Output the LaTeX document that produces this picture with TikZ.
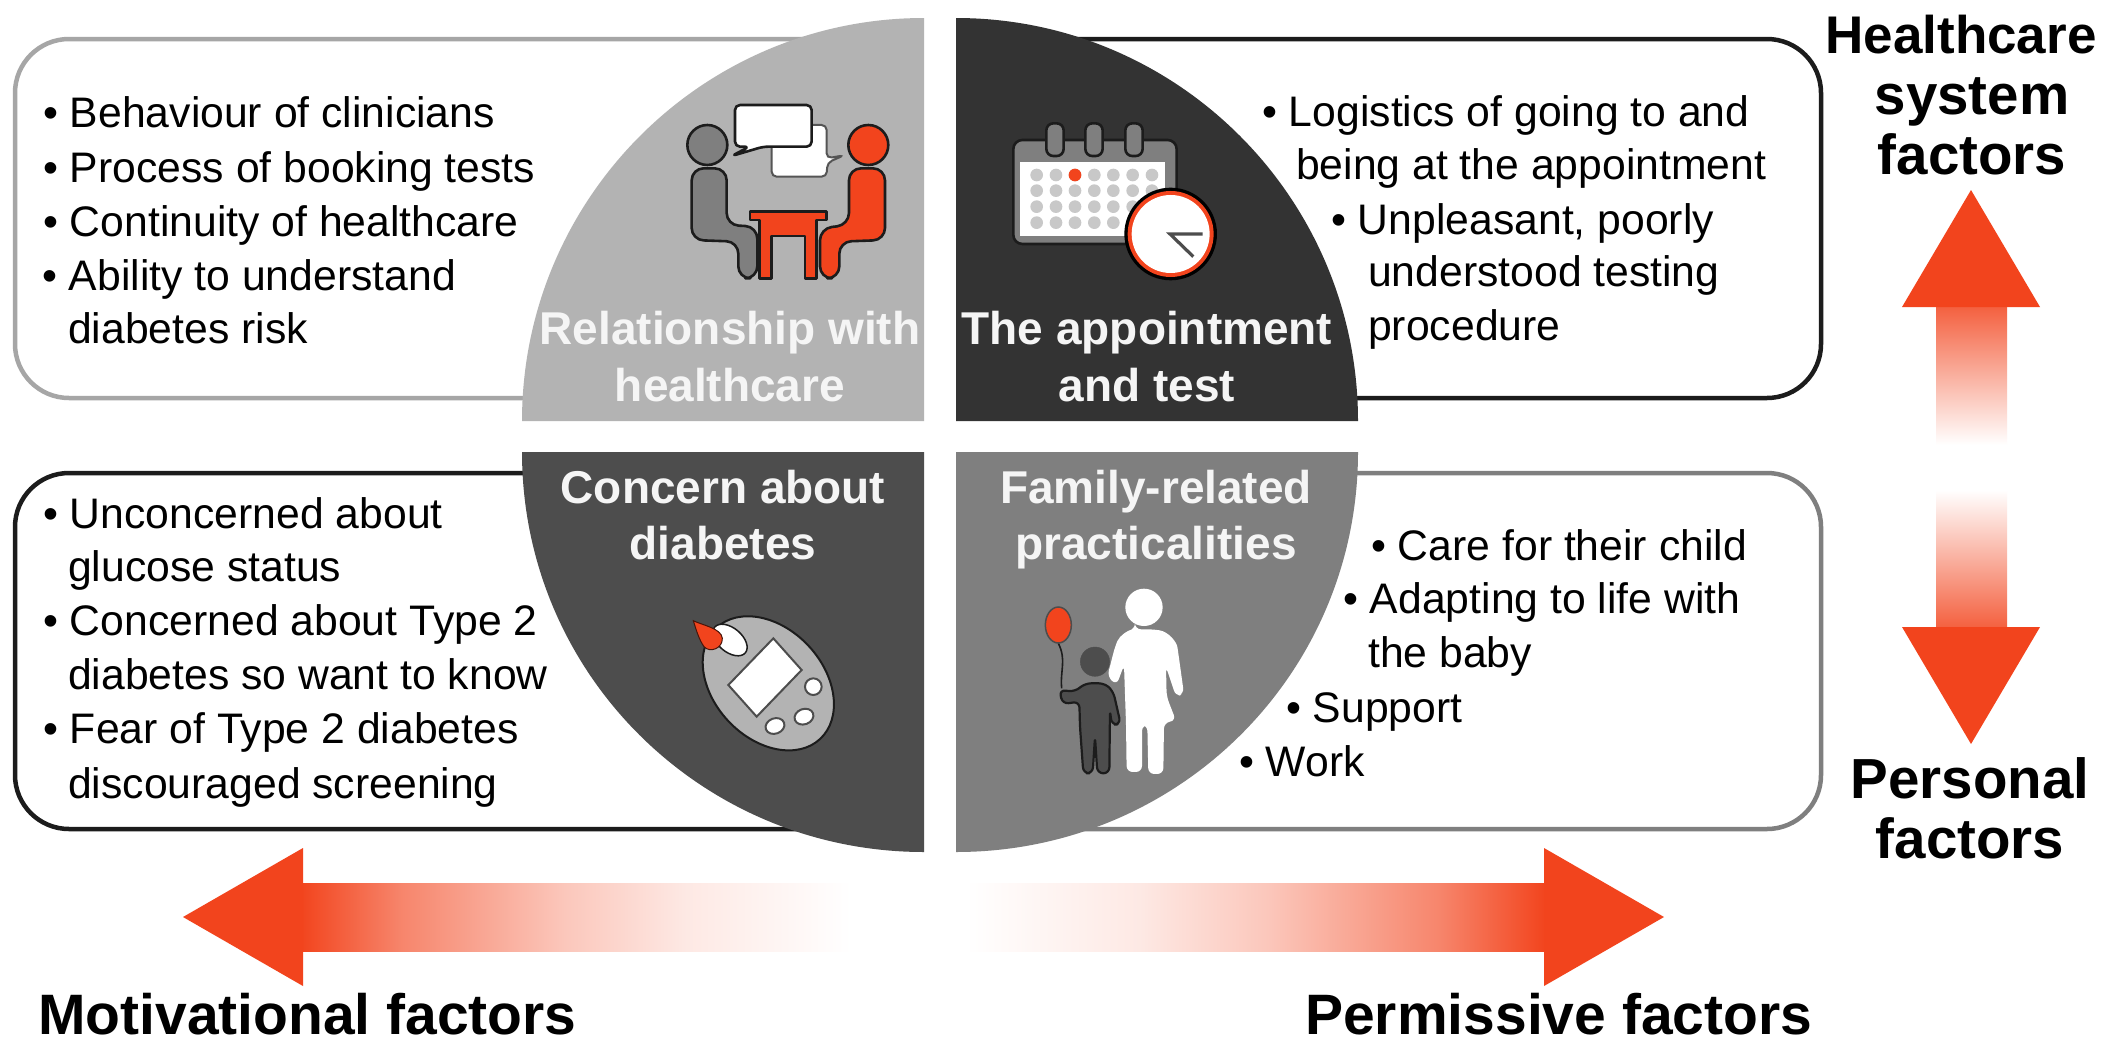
\documentclass[tikz,border=0pt]{standalone}
\usepackage{fontspec}
\setmainfont{Liberation Sans}
\definecolor{hot}{HTML}{F2441D}
\definecolor{qa}{HTML}{B3B3B3}
\definecolor{qb}{HTML}{333333}
\definecolor{qc}{HTML}{4D4D4D}
\definecolor{qd}{HTML}{7F7F7F}
\definecolor{ink}{HTML}{1C1C1C}
\definecolor{dotg}{HTML}{C8C8C8}
\pgfdeclarehorizontalshading{fadeleft}{100bp}{color(0bp)=(hot);color(25bp)=(hot);color(34.25bp)=(hot!65);color(49bp)=(hot!30);color(60bp)=(hot!12);color(75bp)=(white);color(100bp)=(white)}
\pgfdeclarehorizontalshading{faderight}{100bp}{color(0bp)=(white);color(25bp)=(white);color(40bp)=(hot!12);color(51bp)=(hot!30);color(65.75bp)=(hot!65);color(75bp)=(hot);color(100bp)=(hot)}
\tikzset{
  panel/.style={fill=white,line width=4.5pt,rounded corners=54pt},
  txt/.style={anchor=base west,inner sep=0pt,yshift=-1.5pt,text=black,font=\fontsize{42.7}{54}\selectfont},
  head/.style={anchor=base,inner sep=0pt,yshift=-1.5pt,text=white!96!black,font=\fontsize{46}{54}\selectfont\bfseries},
  side/.style={anchor=base,inner sep=0pt,text=black,font=\fontsize{56.5}{60}\selectfont\bfseries},
  axis/.style={anchor=base west,inner sep=0pt,text=black,font=\fontsize{57}{60}\selectfont\bfseries},
  icon/.style={draw=ink,line width=2.6pt,line join=round},
  zoom/.style={x=.3333pt,y=-.3333pt}
}
\begin{document}
\begin{tikzpicture}[x=1pt,y=-1pt]
\useasboundingbox (0,0) rectangle (2128,1050);
\fill[white] (0,0) rectangle (2128,1050);
% panels
\draw[panel,draw=black!35] (15,39) rectangle (880,398);
\draw[panel,draw=ink] (1000,39) rectangle (1821,398);
\draw[panel,draw=ink] (15,473) rectangle (880,829);
\draw[panel,draw=qd] (1000,473) rectangle (1821,829);
% quadrants
\fill[qa] (924,421) -- (522,421) .. controls (522,199) and (702,18) .. (924,18) -- cycle;
\fill[qb] (956,421) -- (1358,421) .. controls (1358,199) and (1178,18) .. (956,18) -- cycle;
\fill[qc] (924,452) -- (522,452) .. controls (522,674) and (702,852) .. (924,852) -- cycle;
\fill[qd] (956,452) -- (1358,452) .. controls (1358,674) and (1178,852) .. (956,852) -- cycle;
% arrows
\shade[top color=hot!85,bottom color=white] (1936,306) rectangle (2007,445);
\fill[hot] (1971,190) -- (2040,307) -- (1902,307) -- cycle;
\shade[top color=white,bottom color=hot!85] (1936,490) rectangle (2007,628);
\fill[hot] (1971,744) -- (2040,627) -- (1902,627) -- cycle;
\shade[shading=fadeleft] (300,883) rectangle (851,951);
\fill[hot] (183,917) -- (303,848) -- (303,986) -- cycle;
\shade[shading=faderight] (966,883) rectangle (1546,951);
\fill[hot] (1664,917) -- (1544,848) -- (1544,986) -- cycle;
% people icon
\begin{scope}[shift={(620,80)},zoom]
  \draw[fill=white,draw=ink!75,line width=2pt,rounded corners=5pt] (455,135) -- (620,135) -- (620,235) -- (672,226) -- (622,248) -- (620,290) -- (455,290) -- cycle;
  \draw[fill=white,icon,rounded corners=5pt] (345,75) -- (575,75) -- (575,200) -- (430,200) -- (335,228) -- (388,200) -- (345,200) -- cycle;
  \draw[icon,fill=qd] (262,195) circle[radius=60];
  \draw[icon,fill=qd,rounded corners=12pt] (215,480) -- (215,265) -- (320,265) -- (320,435) -- (412,440) -- (412,595) -- (355,595) -- (355,485) -- cycle;
  \draw[icon,fill=hot] (745,195) circle[radius=60];
  \draw[icon,fill=hot,rounded corners=12pt] (795,480) -- (795,265) -- (687,265) -- (687,435) -- (600,445) -- (600,595) -- (658,595) -- (658,485) -- cycle;
  \draw[icon,fill=hot] (390,395) -- (620,395) -- (620,420) -- (590,420) -- (590,595) -- (555,595) -- (555,468) -- (455,468) -- (455,595) -- (418,595) -- (418,420) -- (390,420) -- cycle;
\end{scope}
% calendar icon
\begin{scope}[shift={(980,90)},zoom]
  \draw[icon,fill=qd,rounded corners=9pt] (100,150) rectangle (590,462);
  \fill[white] (120,215) rectangle (555,438);
  \foreach \cx in {225,342,462}
    \draw[icon,fill=qd,rounded corners=7pt] (\cx-26,100) rectangle (\cx+26,198);
  \foreach \cx in {170,228,285,343,400,458,516}
    \foreach \cy in {255,302,350,398}
      \fill[dotg] (\cx,\cy) circle[radius=19];
  \fill[hot] (285,255) circle[radius=19];
  \fill[black] (572,432) circle[radius=139];
  \fill[hot] (572,432) circle[radius=129];
  \fill[white] (572,432) circle[radius=117];
  \draw[draw=qc,line width=3.2pt] (668,432) -- (570,432) -- (640,500);
\end{scope}
% meter icon
\begin{scope}[shift={(660,590)},zoom]
  \draw[draw=ink,line width=2pt,fill=qa,rotate around={-47:(325,280)}] (325,280) ellipse[x radius=228,y radius=165];
  \draw[draw=ink,line width=1.5pt,fill=white,rotate around={-40:(210,150)}] (210,150) ellipse[x radius=60,y radius=36];
  \fill[hot,draw=black!70!hot,line width=1pt] (100,92) .. controls (125,105) and (185,115) .. (187,145) .. controls (188,175) and (150,190) .. (132,170) .. controls (118,150) and (110,125) .. (100,92) -- cycle;
  \draw[draw=qc,line width=2pt,fill=white] (340,145) -- (425,240) -- (290,380) -- (205,285) -- cycle;
  \draw[draw=qc,line width=2pt,fill=white] (460,290) circle[radius=25];
  \draw[draw=qc,line width=2pt,fill=white,rotate around={20:(432,380)}] (432,380) ellipse[x radius=29,y radius=23];
  \draw[draw=qc,line width=2pt,fill=white,rotate around={20:(345,408)}] (345,408) ellipse[x radius=29,y radius=23];
\end{scope}
% family icon
\begin{scope}[shift={(1020,570)},zoom]
  \fill[white] (372,112) circle[radius=56];
  \fill[white,rounded corners=6pt] (345,178) -- (400,178) .. controls (445,185) and (470,215) .. (475,250) -- (492,372) -- (468,380) -- (438,290) -- (440,380) -- (468,452) -- (432,458) -- (430,612) -- (385,612) -- (382,465) -- (366,465) -- (366,606) -- (320,606) -- (318,460) -- (312,285) -- (290,345) -- (262,320) -- (285,230) .. controls (300,195) and (325,182) .. (345,178) -- cycle;
  \draw[draw=ink,line width=1.6pt] (115,220) .. controls (140,270) and (120,300) .. (125,355);
  \draw[draw=qc,line width=1.5pt,fill=hot] (115,165) ellipse[x radius=39,y radius=54];
  \fill[qc,draw=qc] (225,275) circle[radius=44];
  \draw[icon,fill=qc,line width=2.2pt,rounded corners=6pt] (118,360) -- (165,365) -- (195,340) -- (255,340) -- (280,365) -- (302,462) -- (275,465) -- (270,420) -- (268,610) -- (232,610) -- (225,500) -- (218,610) -- (190,610) -- (180,470) -- (178,395) -- (128,402) -- cycle;
\end{scope}
% bullet text
\node[txt] (a1) at (43,126) {• Behaviour of clinicians};
\node[txt] (a2) at (43,180.5) {• Process of booking tests};
\node[txt] (a3) at (43,235) {• Continuity of healthcare};
\node[txt] (a4) at (42,289) {• Ability to understand};
\node[txt] (a5) at (68,342) {diabetes risk};
\node[txt] (b1) at (1262,125) {• Logistics of going to and};
\node[txt] (b2) at (1296,178) {being at the appointment};
\node[txt] (b3) at (1331,233) {• Unpleasant, poorly};
\node[txt] (b4) at (1368,285) {understood testing};
\node[txt] (b5) at (1368,339) {procedure};
\node[txt] (c1) at (43,526.5) {• Unconcerned about};
\node[txt] (c2) at (68,579.5) {glucose status};
\node[txt] (c3) at (43,634) {• Concerned about Type 2};
\node[txt] (c4) at (68,688) {diabetes so want to know};
\node[txt] (c5) at (43,742) {• Fear of Type 2 diabetes};
\node[txt] (c6) at (68,796.5) {discouraged screening};
\node[txt] (d1) at (1371,559) {• Care for their child};
\node[txt] (d2) at (1343,612) {• Adapting to life with};
\node[txt] (d3) at (1368,666) {the baby};
\node[txt] (d4) at (1286,720.5) {• Support};
\node[txt] (d5) at (1239,775) {• Work};
% quadrant headings
\node[head] (h1) at (730,343) {Relationship with};
\node[head] (h2) at (730,400) {healthcare};
\node[head] (h3) at (1147,343) {The appointment};
\node[head] (h4) at (1147,400) {and test};
\node[head] (h5) at (723,502) {Concern about};
\node[head] (h6) at (723,558) {diabetes};
\node[head] (h7) at (1156,502) {Family-related};
\node[head] (h8) at (1156,558) {practicalities};
% axis labels
\node[side,font=\fontsize{53}{60}\selectfont\bfseries] (s1) at (1961,53) {Healthcare};
\node[side] (s2) at (1972,114) {system};
\node[side] (s3) at (1972,174) {factors};
\node[side] (s4) at (1970,798) {Personal};
\node[side] (s5) at (1970,858) {factors};
\node[axis] (m1) at (38,1034) {Motivational factors};
\node[axis] (m2) at (1305,1034) {Permissive factors};
\end{tikzpicture}
\end{document}
